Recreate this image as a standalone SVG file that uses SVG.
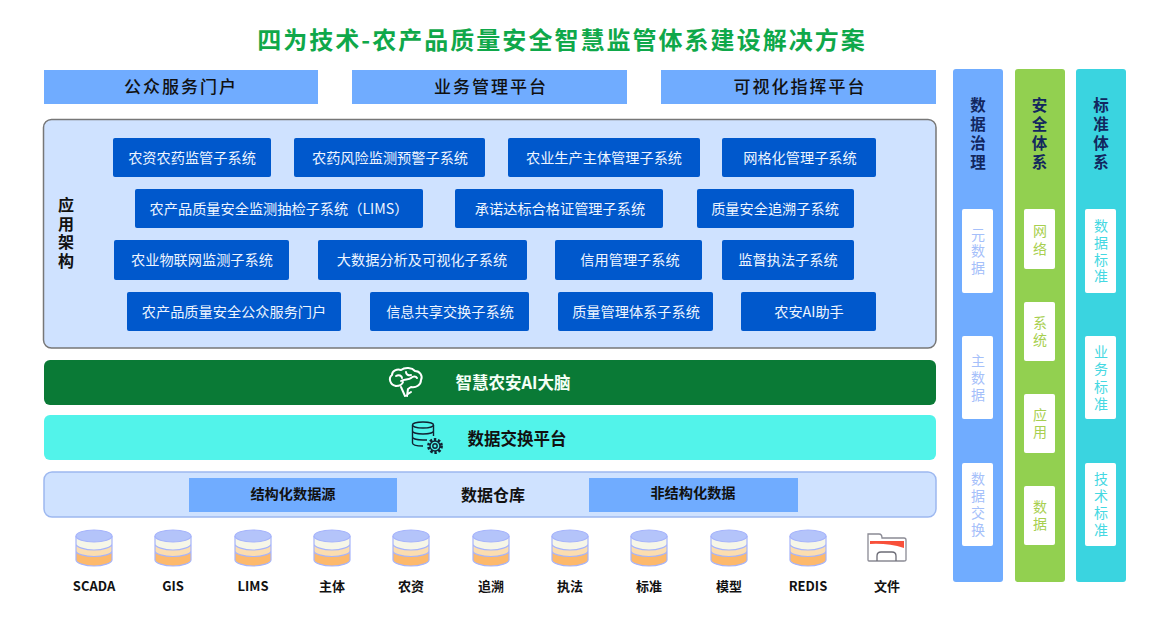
<svg xmlns="http://www.w3.org/2000/svg" width="1166" height="619" viewBox="0 0 1166 619">
<style>
text{font-family:"Noto Sans CJK SC","Liberation Sans",sans-serif;text-anchor:middle}
.title{font-size:24px;font-weight:700;fill:#0fa84a;letter-spacing:2.030px}
.top{fill:#70acff}
.toptx{font-size:17px;fill:#111;letter-spacing:2px;font-weight:500}
.btn{fill:#0058cc;rx:2px}
.btntx{font-size:14.200px;fill:#eef5ff}
.vh{font-size:15.500px;font-weight:700;fill:#12275e}
.sub{fill:#fff;rx:2px}
.b{fill:#a5c0fa;font-size:14px}.g{fill:#a8cf50;font-size:14px}.t{fill:#45d8e2;font-size:14px}
.lab{font-size:13px;font-weight:700;fill:#111}
.bar{font-size:16.500px;font-weight:700}
.wh{font-size:14.200px;font-weight:700;fill:#111}
.cs{fill:none;stroke:#a6b4fb;stroke-width:1.200}
</style>
<defs>
<g id="cyl">
<path d="M-18,15V24C-18,27-9,30 0,30S18,27 18,24V15Z" fill="#fdb96c"/>
<path d="M-18,8V15C-18,18-9,20.500 0,20.500S18,18 18,15V8Z" fill="#fbddb0"/>
<path d="M-18,0V8C-18,11-9,14 0,14S18,11 18,8V0Z" fill="#f6f6e8"/>
<ellipse cx="0" cy="0" rx="18" ry="6" fill="#b4c4fa"/>
<path class="cs" d="M-18,0V24C-18,27-9,30 0,30S18,27 18,24V0M-18,8C-18,11-9,14 0,14S18,11 18,8M-18,15C-18,18-9,20.500 0,20.500S18,18 18,15"/>
<ellipse class="cs" cx="0" cy="0" rx="18" ry="6"/>
</g>
</defs>
<rect width="1166" height="619" fill="#fff"/>
<text id="title" class="title" x="562" y="49">四为技术-农产品质量安全智慧监管体系建设解决方案</text>
<g id="connectors"></g>
<g id="top-portal"><rect class="top" x="44" y="70" width="274" height="34"/><text class="toptx" x="181" y="93">公众服务门户</text></g>
<g id="top-biz"><rect class="top" x="352" y="70" width="275" height="34"/><text class="toptx" x="491" y="93">业务管理平台</text></g>
<g id="top-vis"><rect class="top" x="661" y="70" width="275" height="34"/><text class="toptx" x="800" y="93">可视化指挥平台</text></g>
<g id="app-arch">
<rect x="43.500" y="119.500" width="892.500" height="228.500" rx="8" fill="#cfe2ff" stroke="#777" stroke-width="1.500"/>
<text style="font-size:16px;font-weight:700" fill="#111"><tspan x="66" y="211">应</tspan><tspan x="66" y="230">用</tspan><tspan x="66" y="248">架</tspan><tspan x="66" y="267">构</tspan></text>
</g>
<g id="s1"><rect class="btn" x="113" y="138" width="158" height="39"/><text class="btntx" x="192" y="163">农资农药监管子系统</text></g>
<g id="s2"><rect class="btn" x="294" y="138" width="191" height="39"/><text class="btntx" x="390" y="163">农药风险监测预警子系统</text></g>
<g id="s3"><rect class="btn" x="508" y="138" width="192" height="39"/><text class="btntx" x="604" y="163">农业生产主体管理子系统</text></g>
<g id="s4"><rect class="btn" x="722" y="138" width="154" height="39"/><text class="btntx" x="800" y="163">网格化管理子系统</text></g>
<g id="s5"><rect class="btn" x="135" y="189" width="288" height="39"/><text class="btntx" x="279" y="214">农产品质量安全监测抽检子系统（LIMS）</text></g>
<g id="s6"><rect class="btn" x="455" y="189" width="208" height="39"/><text class="btntx" x="560" y="214">承诺达标合格证管理子系统</text></g>
<g id="s7"><rect class="btn" x="697" y="189" width="157" height="39"/><text class="btntx" x="775" y="214">质量安全追溯子系统</text></g>
<g id="s8"><rect class="btn" x="114" y="240" width="175" height="40"/><text class="btntx" x="202" y="265">农业物联网监测子系统</text></g>
<g id="s9"><rect class="btn" x="318" y="240" width="209" height="40"/><text class="btntx" x="422" y="265">大数据分析及可视化子系统</text></g>
<g id="s10"><rect class="btn" x="555" y="240" width="147" height="40"/><text class="btntx" x="630" y="265">信用管理子系统</text></g>
<g id="s11"><rect class="btn" x="722" y="240" width="132" height="40"/><text class="btntx" x="788" y="265">监督执法子系统</text></g>
<g id="s12"><rect class="btn" x="127" y="292" width="214" height="39"/><text class="btntx" x="234" y="317">农产品质量安全公众服务门户</text></g>
<g id="s13"><rect class="btn" x="370" y="292" width="159" height="39"/><text class="btntx" x="450" y="317">信息共享交换子系统</text></g>
<g id="s14"><rect class="btn" x="558" y="292" width="155" height="39"/><text class="btntx" x="636" y="317">质量管理体系子系统</text></g>
<g id="s15"><rect class="btn" x="741" y="292" width="135" height="39"/><text class="btntx" x="809" y="317">农安AI助手</text></g>
<g id="ai-brain">
<rect x="44" y="360" width="892" height="45" rx="6" fill="#0a7a36"/>
<g fill="none" stroke="#fff" stroke-width="2" stroke-linecap="round" stroke-linejoin="round">
<path d="M396,386C390,385 388,378 392,375C392,371 397,368.500 401,370C405,367 412,367.500 415,371C420,371 423,376 421,380C421,385 416,388 411,387L408,389L407,396M401,387L405,396L411,392"/>
<path d="M396,376C399,374 402,376 402,378M401,381C404,379 409,380 411,378C413,376 416,376 417,378M406,372C406,374 408,376 411,375M396,386C399,386 402,385 403,382"/>
</g>
<text class="bar" x="513" y="389" fill="#f4fff6">智慧农安AI大脑</text>
</g>
<g id="exchange">
<rect x="44" y="415" width="892" height="45" rx="6" fill="#52f3ea"/>
<g fill="none" stroke="#123" stroke-width="1.400">
<ellipse cx="423" cy="425" rx="10.500" ry="3"/>
<path d="M412.500,425V443C412.500,445 416,446 423,446M433.500,425V436M412.500,431C412.500,433 418,434 423,434S433.500,433 433.500,431M412.500,437C412.500,439 418,440 423,440H427"/>
<circle cx="435" cy="446" r="6.500" stroke-width="2.800" stroke-dasharray="2.400 1.700"/>
<circle cx="435" cy="446" r="5"/>
<circle cx="435" cy="446" r="2.200"/>
</g>
<text class="bar" x="517" y="445" fill="#111">数据交换平台</text>
</g>
<g id="warehouse">
<rect x="44" y="472" width="892" height="45" rx="8" fill="#cfe2ff" stroke="#9db8f0" stroke-width="1.500"/>
<rect x="189" y="478" width="208" height="34" fill="#70acff"/>
<rect x="589" y="478" width="209" height="34" fill="#70acff"/>
<text class="wh" x="293" y="499">结构化数据源</text>
<text x="493" y="501" style="font-size:16px;font-weight:700" fill="#111">数据仓库</text>
<text class="wh" x="693" y="498">非结构化数据</text>
</g>
<g id="ds-scada"><use href="#cyl" x="94" y="536"/><text class="lab" x="94" y="591">SCADA</text></g>
<g id="ds-gis"><use href="#cyl" x="173" y="536"/><text class="lab" x="173" y="591">GIS</text></g>
<g id="ds-lims"><use href="#cyl" x="253" y="536"/><text class="lab" x="253" y="591">LIMS</text></g>
<g id="ds-zhuti"><use href="#cyl" x="332" y="536"/><text class="lab" x="332" y="591">主体</text></g>
<g id="ds-nongzi"><use href="#cyl" x="411" y="536"/><text class="lab" x="411" y="591">农资</text></g>
<g id="ds-zhuisu"><use href="#cyl" x="491" y="536"/><text class="lab" x="491" y="591">追溯</text></g>
<g id="ds-zhifa"><use href="#cyl" x="570" y="536"/><text class="lab" x="570" y="591">执法</text></g>
<g id="ds-biaozhun"><use href="#cyl" x="649" y="536"/><text class="lab" x="649" y="591">标准</text></g>
<g id="ds-moxing"><use href="#cyl" x="729" y="536"/><text class="lab" x="729" y="591">模型</text></g>
<g id="ds-redis"><use href="#cyl" x="808" y="536"/><text class="lab" x="808" y="591">REDIS</text></g>
<g id="ds-file">
<path d="M868,534H879C881,534 882,535 882,538H904C905,538 906,539 906,540V560C906,561 905,561 904,561H869C868,561 868,561 868,560Z" fill="#fff" stroke="#8a8a94" stroke-width="1.300"/>
<path d="M870,541H904V548Q888,543 870,544Z" fill="#f8503a"/>
<path d="M877,561V556C877,553 879,552 881,552H892C894,552 896,553 896,556V561" fill="none" stroke="#6c6c76" stroke-width="1.300"/>
<text class="lab" x="887" y="591">文件</text>
</g>
<g id="col-data">
<rect x="953" y="69" width="50" height="513" rx="3" fill="#70acff"/>
<text class="vh"><tspan x="978" y="111">数</tspan><tspan x="978" y="130">据</tspan><tspan x="978" y="149">治</tspan><tspan x="978" y="168">理</tspan></text>
<rect class="sub" x="962" y="209" width="31" height="84"/><rect class="sub" x="962" y="336" width="31" height="83"/><rect class="sub" x="962" y="463" width="31" height="83"/>
<text class="b"><tspan x="978" y="240">元</tspan><tspan x="978" y="256">数</tspan><tspan x="978" y="273">据</tspan></text>
<text class="b"><tspan x="978" y="366">主</tspan><tspan x="978" y="383">数</tspan><tspan x="978" y="400">据</tspan></text>
<text class="b"><tspan x="978" y="484">数</tspan><tspan x="978" y="501">据</tspan><tspan x="978" y="518">交</tspan><tspan x="978" y="535">换</tspan></text>
</g>
<g id="col-sec">
<rect x="1015" y="69" width="50" height="513" rx="3" fill="#92d050"/>
<text class="vh"><tspan x="1039.500" y="111">安</tspan><tspan x="1039.500" y="130">全</tspan><tspan x="1039.500" y="149">体</tspan><tspan x="1039.500" y="168">系</tspan></text>
<rect class="sub" x="1024" y="209" width="31" height="60"/><rect class="sub" x="1024" y="302" width="31" height="59"/><rect class="sub" x="1024" y="394" width="31" height="59"/><rect class="sub" x="1024" y="486" width="31" height="59"/>
<text class="g"><tspan x="1040" y="236">网</tspan><tspan x="1040" y="254">络</tspan></text>
<text class="g"><tspan x="1040" y="328">系</tspan><tspan x="1040" y="345">统</tspan></text>
<text class="g"><tspan x="1040" y="420">应</tspan><tspan x="1040" y="437">用</tspan></text>
<text class="g"><tspan x="1040" y="512">数</tspan><tspan x="1040" y="529">据</tspan></text>
</g>
<g id="col-std">
<rect x="1076" y="69" width="50" height="513" rx="3" fill="#3ad4e0"/>
<text class="vh"><tspan x="1101" y="111">标</tspan><tspan x="1101" y="130">准</tspan><tspan x="1101" y="149">体</tspan><tspan x="1101" y="168">系</tspan></text>
<rect class="sub" x="1085" y="209" width="31" height="84"/><rect class="sub" x="1085" y="336" width="31" height="83"/><rect class="sub" x="1085" y="463" width="31" height="83"/>
<text class="t"><tspan x="1101" y="231">数</tspan><tspan x="1101" y="248">据</tspan><tspan x="1101" y="265">标</tspan><tspan x="1101" y="281">准</tspan></text>
<text class="t"><tspan x="1101" y="357">业</tspan><tspan x="1101" y="374">务</tspan><tspan x="1101" y="392">标</tspan><tspan x="1101" y="409">准</tspan></text>
<text class="t"><tspan x="1101" y="484">技</tspan><tspan x="1101" y="501">术</tspan><tspan x="1101" y="518">标</tspan><tspan x="1101" y="535">准</tspan></text>
</g>
</svg>
